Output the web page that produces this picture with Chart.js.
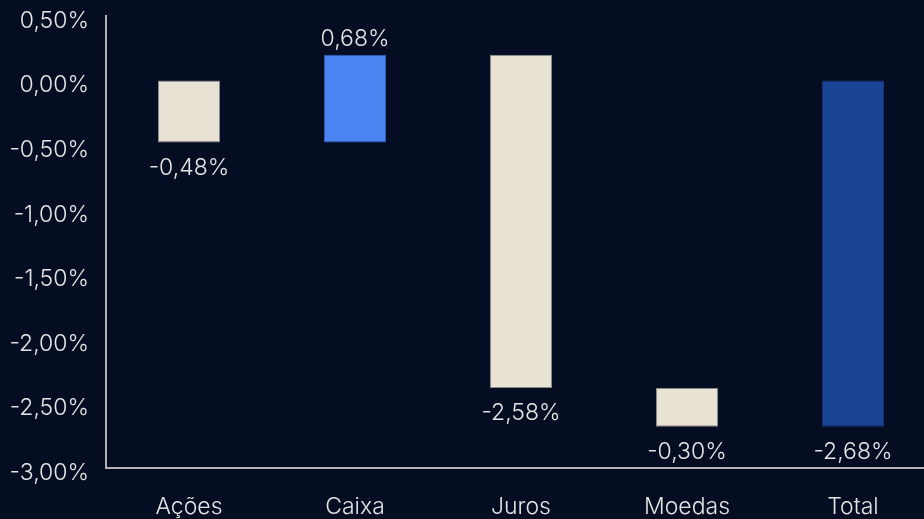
<!DOCTYPE html>
<html>
<head>
<meta charset="utf-8">
<script src="https://cdn.jsdelivr.net/npm/chart.js@4"></script>
<style>
  html, body {
    margin: 0;
    padding: 0;
    background: #050d22;
    overflow: hidden;
  }
  #wrap {
    width: 936px;
    height: 519px;
  }
</style>
</head>
<body>
<div id="wrap"><canvas id="waterfallChart"></canvas></div>
<script>
const categories = ["Ações", "Caixa", "Juros", "Moedas", "Total"];
const changes = [-0.48, 0.68, -2.58, -0.30, -2.68];
const isTotal = [false, false, false, false, true];
const barColors = ["#e8e2d4", "#4a84f0", "#e8e2d4", "#e8e2d4", "#1a4496"];
const borderColors = ["#8a8a8a", "#2f62c4", "#8a8a8a", "#8a8a8a", "#15367a"];

const textColor = "#e4e4e4";
const axisColor = "#b4b4b4";
const fontFamily = "Inter, 'Noto Sans', sans-serif";

function formatPct(v) {
  return v.toFixed(2).replace(".", ",") + "%";
}

// build floating bars [start, end] from the changes
function buildBars() {
  const bars = [];
  let running = 0;
  changes.forEach((c, i) => {
    if (isTotal[i]) {
      bars.push([0, c]);
    } else {
      bars.push([running, running + c]);
      running += c;
    }
  });
  return bars;
}

const valueLabels = {
  id: "valueLabels",
  afterDatasetsDraw(chart) {
    const ctx = chart.ctx;
    const meta = chart.getDatasetMeta(0);
    ctx.save();
    ctx.font = "300 23px " + fontFamily;
    ctx.fillStyle = textColor;
    ctx.textAlign = "center";
    meta.data.forEach((bar, i) => {
      const top = Math.min(bar.y, bar.base);
      const bottom = Math.max(bar.y, bar.base);
      if (changes[i] < 0) {
        ctx.textBaseline = "top";
        ctx.fillText(formatPct(changes[i]), bar.x, bottom + 14);
      } else {
        ctx.textBaseline = "bottom";
        ctx.fillText(formatPct(changes[i]), bar.x, top - 4);
      }
    });
    ctx.restore();
  }
};

new Chart(document.getElementById("waterfallChart"), {
  type: "bar",
  data: {
    labels: categories,
    datasets: [{
      data: buildBars(),
      backgroundColor: barColors,
      borderColor: borderColors,
      borderWidth: 1,
      borderSkipped: false,
      barPercentage: 0.375,
      categoryPercentage: 1
    }]
  },
  options: {
    responsive: true,
    maintainAspectRatio: false,
    animation: false,
    layout: {
      padding: { top: 16, left: 0, right: 0, bottom: 0 }
    },
    plugins: {
      legend: { display: false },
      tooltip: { enabled: false }
    },
    scales: {
      x: {
        grid: { display: false, drawTicks: false },
        border: { display: true, color: axisColor, width: 2 },
        ticks: {
          color: textColor,
          padding: 25,
          font: { family: fontFamily, size: 23, weight: 300 }
        },
        afterFit(scale) {
          scale.height = 51;
          scale.paddingLeft = 0;
          scale.paddingRight = 0;
        }
      },
      y: {
        min: -3,
        max: 0.5,
        grid: { display: false, drawTicks: false },
        border: { display: true, color: axisColor, width: 2 },
        ticks: {
          stepSize: 0.5,
          color: textColor,
          padding: 17,
          labelOffset: 5,
          font: { family: fontFamily, size: 23, weight: 300 },
          callback: v => formatPct(v)
        },
        afterFit(scale) {
          scale.width = 106;
          scale.paddingTop = 0;
          scale.paddingBottom = 0;
        }
      }
    }
  },
  plugins: [valueLabels]
});
</script>
</body>
</html>
